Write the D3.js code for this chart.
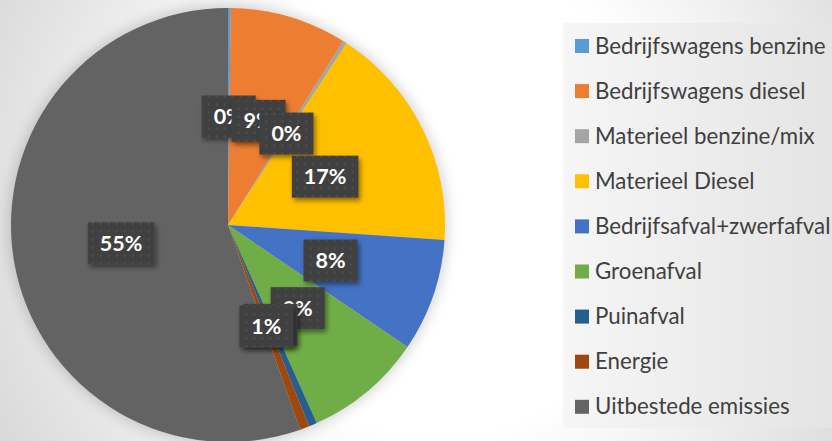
<html>
    <head>
        <title>Emissies</title>
        <style>
            body { margin: 0; background: #fff; }
            svg { display: block; }
        </style>
    </head>

    <body>
        <script src="https://d3js.org/d3.v7.min.js"></script>
        <script>
            var categories = ['Bedrijfswagens benzine', 'Bedrijfswagens diesel', 'Materieel benzine/mix',
                'Materieel Diesel', 'Bedrijfsafval+zwerfafval', 'Groenafval', 'Puinafval', 'Energie',
                'Uitbestede emissies'];
            var values = [0.2, 8.7, 0.3, 16.9, 8.4, 8.8, 0.6, 0.7, 55.4];
            var colors = ['#5B9BD5', '#ED7D31', '#A5A5A5', '#FFC000', '#4472C4', '#70AD47', '#255E91',
                '#9E480E', '#636363'];

            var width = 832, height = 441;
            var cx = 228, cy = 225, radius = 217;

            var svg = d3.select('body')
            .append('svg')
            .attr('width', width)
            .attr('height', height);

            var defs = svg.append('defs');

            var bg = defs.append('radialGradient')
            .attr('id', 'bg')
            .attr('gradientUnits', 'userSpaceOnUse')
            .attr('cx', 440).attr('cy', 200).attr('r', 520);
            bg.append('stop').attr('offset', '0').attr('stop-color', '#ffffff');
            bg.append('stop').attr('offset', '0.45').attr('stop-color', '#ffffff');
            bg.append('stop').attr('offset', '1').attr('stop-color', '#d6d6d6');

            var lg = defs.append('linearGradient')
            .attr('id', 'legendBg')
            .attr('x1', '0').attr('x2', '1').attr('y1', '0').attr('y2', '0');
            lg.append('stop').attr('offset', '0').attr('stop-color', '#f6f6f6');
            lg.append('stop').attr('offset', '1').attr('stop-color', '#e4e4e4');

            var pattern = defs.append('pattern')
            .attr('id', 'dots')
            .attr('patternUnits', 'userSpaceOnUse')
            .attr('width', 8).attr('height', 8);
            pattern.append('rect').attr('width', 8).attr('height', 8).attr('fill', '#404040');
            pattern.append('rect').attr('x', 3).attr('y', 3).attr('width', 2).attr('height', 2).attr('fill', '#4f4f4f');

            var glow = defs.append('filter')
            .attr('id', 'glow')
            .attr('x', '-20%').attr('y', '-20%').attr('width', '140%').attr('height', '140%');
            glow.append('feGaussianBlur').attr('stdDeviation', 7);

            var shadow = defs.append('filter')
            .attr('id', 'shadow')
            .attr('x', '-30%').attr('y', '-30%').attr('width', '160%').attr('height', '160%');
            shadow.append('feDropShadow')
            .attr('dx', 2).attr('dy', 3).attr('stdDeviation', 2.5)
            .attr('flood-color', '#000').attr('flood-opacity', 0.45);

            svg.append('rect')
            .attr('width', width)
            .attr('height', height)
            .attr('fill', 'url(#bg)');

            // legend panel
            svg.append('rect')
            .attr('x', 563).attr('y', 23)
            .attr('width', width - 563).attr('height', 405)
            .attr('fill', 'url(#legendBg)');

            // soft halo behind the pie
            svg.append('circle')
            .attr('cx', cx).attr('cy', cy)
            .attr('r', radius + 2)
            .attr('fill', '#000')
            .attr('opacity', 0.18)
            .attr('filter', 'url(#glow)');

            var pie = d3.pie().sort(null).value(function(d) { return d; });
            var arcs = pie(values);
            var total = d3.sum(values);

            var arc = d3.arc().innerRadius(0).outerRadius(radius);
            var labelArc = d3.arc().innerRadius(radius * 0.5).outerRadius(radius * 0.5);

            var g = svg.append('g')
            .attr('transform', 'translate(' + cx + ',' + cy + ')');

            g.selectAll('path')
            .data(arcs)
            .enter()
            .append('path')
            .attr('d', arc)
            .style('fill', function(d, i) {
                return colors[i];
            });

            var fmt = d3.format('.0%');

            var labels = g.selectAll('g.label')
            .data(arcs)
            .enter()
            .append('g')
            .attr('class', 'label')
            .attr('transform', function(d) {
                var c = labelArc.centroid(d);
                return 'translate(' + c[0] + ',' + c[1] + ')';
            });

            labels.each(function(d) {
                var lab = d3.select(this);
                var txt = fmt(d.value / total);
                var box = lab.append('rect')
                .attr('fill', 'url(#dots)')
                .attr('filter', 'url(#shadow)');
                var t = lab.append('text')
                .attr('text-anchor', 'middle')
                .attr('y', 7.5)
                .style('font-family', 'Lato, "Open Sans", sans-serif')
                .style('font-weight', 'bold')
                .style('font-size', '21.5px')
                .style('fill', '#ffffff')
                .text(txt);
                var w = t.node().getComputedTextLength() + 24;
                box.attr('x', -w / 2).attr('y', -21)
                .attr('width', w).attr('height', 42);
            });

            var legend = svg.append('g')
            .attr('transform', 'translate(575,46)');

            var rows = legend.selectAll('g')
            .data(categories)
            .enter()
            .append('g')
            .attr('transform', function(d, i) {
                return 'translate(0,' + (i * 45.1) + ')';
            });

            rows.append('rect')
            .attr('x', 0).attr('y', -7)
            .attr('width', 14).attr('height', 14)
            .style('fill', function(d, i) {
                return colors[i];
            });

            rows.append('text')
            .attr('x', 20)
            .attr('y', 7.5)
            .style('font-family', 'Lato, "Open Sans", sans-serif')
            .style('font-size', '22.3px')
            .style('fill', '#404040')
            .text(function(d) { return d; });
        </script>
    </body>
</html>
